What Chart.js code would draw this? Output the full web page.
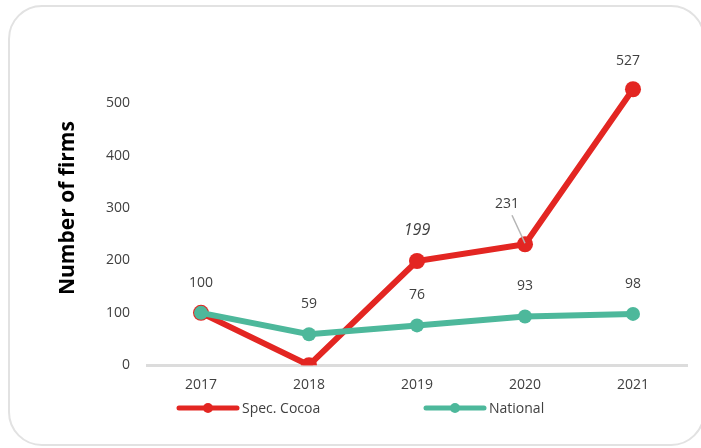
<!DOCTYPE html>
<html>
<head>
<meta charset="utf-8">
<script src="https://cdn.jsdelivr.net/npm/chart.js@4/dist/chart.umd.min.js"></script>
<style>
  html, body { margin: 0; padding: 0; background: #fff; }
  #wrap { position: relative; width: 701px; height: 448px; overflow: hidden; }
  #frame {
    position: absolute; left: 8px; top: 5px; width: 697px; height: 441px;
    border: 2px solid #e2e2e2; border-radius: 34px; box-sizing: border-box;
  }
  canvas { position: absolute; left: 0; top: 0; }
</style>
</head>
<body>
<div id="wrap">
  <div id="frame"></div>
  <canvas id="grafico" width="701" height="448"></canvas>
</div>
<script>
const years = ["2017", "2018", "2019", "2020", "2021"];
const cocoa = [100, 0, 199, 231, 527];
const national = [100, 59, 76, 93, 98];
const cocoaLabels = [null, null, "199", "231", "527"];
const nationalLabels = ["100", "59", "76", "93", "98"];

const RED = "#e32622";
const GREEN = "#4db89b";
const TEXT = "#404040";
const FONT = "'Open Sans', sans-serif";

// label placement relative to its point (dx, dy), and a few special cases
const labelStyle = {
    0: { 2: { dy: -31, italic: true, size: 16 }, 3: { dx: -18, dy: -40, leader: true }, 4: { dx: -5, dy: -28 } },
    1: {}
};

const valueLabels = {
    id: "valueLabels",
    afterDatasetsDraw(chart) {
        const ctx = chart.ctx;
        chart.data.datasets.forEach((ds, di) => {
            const meta = chart.getDatasetMeta(di);
            ds.labels.forEach((txt, i) => {
                if (txt == null) return;
                const p = meta.data[i];
                const s = Object.assign({ dx: 0, dy: -30, size: 14 }, labelStyle[di][i] || {});
                const x = p.x + s.dx, y = p.y + s.dy;
                if (s.leader) {
                    ctx.save();
                    ctx.strokeStyle = "#b5b5b5";
                    ctx.lineWidth = 1.5;
                    ctx.beginPath();
                    ctx.moveTo(x + 5, y + 11);
                    ctx.lineTo(p.x, p.y - 1);
                    ctx.stroke();
                    ctx.restore();
                }
                ctx.save();
                ctx.font = (s.italic ? "italic " : "") + s.size + "px " + FONT;
                ctx.fillStyle = TEXT;
                ctx.textAlign = "center";
                ctx.textBaseline = "middle";
                ctx.fillText(txt, x, y);
                ctx.restore();
            });
        });
    }
};

const lineLegend = {
    id: "lineLegend",
    afterDraw(chart) {
        const ctx = chart.ctx;
        const y = 408;
        const items = [
            { x: 177, color: RED, text: "Spec. Cocoa" },
            { x: 424, color: GREEN, text: "National" }
        ];
        items.forEach(it => {
            ctx.save();
            ctx.strokeStyle = it.color;
            ctx.lineWidth = 5;
            ctx.lineCap = "round";
            ctx.beginPath();
            ctx.moveTo(it.x + 2, y);
            ctx.lineTo(it.x + 60, y);
            ctx.stroke();
            ctx.fillStyle = it.color;
            ctx.beginPath();
            ctx.arc(it.x + 31, y, 5, 0, Math.PI * 2);
            ctx.fill();
            ctx.font = "14px " + FONT;
            ctx.fillStyle = TEXT;
            ctx.textBaseline = "middle";
            ctx.fillText(it.text, it.x + 65, y + 1);
            ctx.restore();
        });
    }
};

const ctx = document.getElementById("grafico").getContext("2d");
const chart = new Chart(ctx, {
    type: "line",
    data: {
        labels: years,
        datasets: [
            {
                label: "Spec. Cocoa",
                data: cocoa,
                labels: cocoaLabels,
                borderColor: RED,
                backgroundColor: RED,
                borderWidth: 6,
                pointRadius: 8,
                pointBorderWidth: 0,
                order: 1
            },
            {
                label: "National",
                data: national,
                labels: nationalLabels,
                borderColor: GREEN,
                backgroundColor: GREEN,
                borderWidth: 6,
                pointRadius: 7,
                pointBorderWidth: 0,
                order: 0
            }
        ]
    },
    options: {
        responsive: false,
        animation: false,
        layout: { padding: { left: 51, right: 14, top: 51, bottom: 44 } },
        plugins: {
            legend: { display: false },
            tooltip: { enabled: false }
        },
        scales: {
            x: {
                offset: true,
                grid: { display: false, drawTicks: false },
                border: { display: true, color: "#dcdcdc", width: 3 },
                ticks: { color: TEXT, font: { family: FONT, size: 14 }, padding: 11 }
            },
            y: {
                min: 0,
                max: 600,
                grid: { display: false, drawTicks: false },
                border: { display: false },
                ticks: {
                    stepSize: 100,
                    color: TEXT,
                    padding: 17,
                    font: { family: FONT, size: 14 },
                    callback: v => (v === 600 ? "" : v)
                },
                title: {
                    display: true,
                    text: "Number of firms",
                    color: "#000",
                    font: { family: FONT, size: 21, weight: "bold" },
                    padding: { top: 4, bottom: 0 }
                },
                afterFit: scale => { scale.width = 96; }
            }
        }
    },
    plugins: [valueLabels, lineLegend]
});
</script>
</body>
</html>
